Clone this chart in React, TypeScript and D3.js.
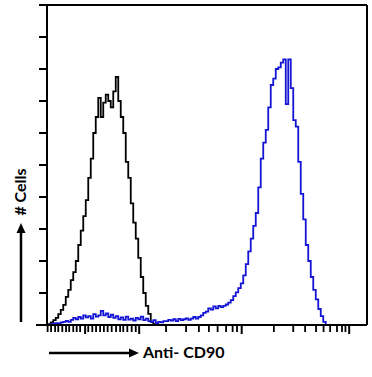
import React from 'react';
import * as d3 from 'd3';

// histogram bins: channel = index * 8 (0..1023 scale)
const binWidth = 8;

const isotypeCounts = [
  0, 0.3, 0.8, 1.5, 2.2, 3.4, 4.7, 6.3, 8.8, 11, 14, 16.5, 20, 25, 29.5, 34, 39, 46, 52, 60,
  65, 71, 65, 69.5, 72, 70, 68, 73, 77.5, 70, 65, 60, 51, 46, 38, 32, 27, 21, 15, 10,
  6, 3.5, 1, 0.3, 0,
];

const cd90Counts = [
  0, 0, 0.3, 0.5, 0.6, 0.5, 0.8, 1.0, 1.3, 1.0, 1.6, 2.2, 1.8, 2.5, 2.0, 3.0, 2.4, 2.8, 2.0, 3.4,
  2.6, 3.0, 4.4, 3.0, 3.6, 2.5, 3.2, 2.2, 2.8, 1.8, 2.4, 1.6, 2.6, 1.7, 2.0, 1.4, 2.2, 1.8, 2.6, 1.5,
  2.0, 1.2, 1.0, 1.5, 0.6, 1.0, 0.8, 1.2, 1.2, 1.6, 1.4, 1.8, 1.2, 1.9, 1.5, 1.8, 2.1, 1.6, 2.0, 2.5,
  2.0, 2.5, 3.0, 3.8, 4.2, 5.2, 4.8, 5.8, 5.2, 6.0, 5.6, 6.0, 6.4, 7.0, 7.8, 9.0, 10.2, 11.5, 13, 15.5,
  19, 23, 27, 31, 35, 43, 52, 57, 61, 68, 75, 77, 80, 80.5, 82, 83, 69, 83, 74, 64,
  62, 51, 41, 33, 25, 20, 15, 11, 8, 5, 2.8, 1, 0,
];

// x axis tick positions (channels), biexponential display
const minorTicks = [
  2, 13, 26, 36, 49, 61, 71, 84, 95, 106, 132, 145, 157, 170, 182, 194, 207, 221, 234, 244,
  257, 271, 284, 381, 445, 486, 518, 546, 573, 594, 608, 726, 788, 826, 861, 885, 906, 928, 944, 955,
];
const majorTicks = [122, 295, 623, 967];
const yTicks = [0, 10, 20, 30, 40, 50, 60, 70, 80, 90, 100];

const W = 372;
const H = 377;
const left = 47, right = 367, top = 5, bottom = 325;

export default function App() {
  const x = d3.scaleLinear().domain([0, 1024]).range([left, right]);
  const y = d3.scaleLinear().domain([0, 100]).range([bottom, top]);

  const line = d3.line<number>()
    .x((d, i) => x(i * binWidth))
    .y(d => y(d))
    .curve(d3.curveStep);

  const font = 'Lato, "Open Sans", sans-serif';

  return (
    <svg width={W} height={H} style={{ position: 'absolute', left: 0, top: 0, background: '#fff' }}>
      <path d={line(isotypeCounts) || ''} fill="none" stroke="#000" strokeWidth={1.8} />
      <path d={line(cd90Counts) || ''} fill="none" stroke="#1414d6" strokeWidth={1.8} />

      {/* frame */}
      <line x1={left} x2={right} y1={top} y2={top} stroke="#000" strokeWidth={2} />
      <line x1={right} x2={right} y1={top} y2={bottom} stroke="#000" strokeWidth={2} />
      <line x1={left} x2={left} y1={top} y2={bottom} stroke="#000" strokeWidth={2} />
      <line x1={36} x2={right} y1={bottom} y2={bottom} stroke="#000" strokeWidth={2} />

      {yTicks.map(t => (
        <line key={'y' + t} x1={39} x2={left} y1={y(t)} y2={y(t)} stroke="#000" strokeWidth={2} />
      ))}
      {minorTicks.map(t => (
        <line key={'m' + t} x1={x(t)} x2={x(t)} y1={bottom} y2={bottom + 7} stroke="#000" strokeWidth={1.8} />
      ))}
      {majorTicks.map(t => (
        <line key={'M' + t} x1={x(t)} x2={x(t)} y1={bottom} y2={bottom + 9} stroke="#000" strokeWidth={2} />
      ))}

      {/* y label + arrow */}
      <text transform="translate(26,192) rotate(-90)" textAnchor="middle"
        fontFamily={font} fontWeight="bold" fontSize={16}>
        # Cells
      </text>
      <line x1={21} x2={21} y1={322} y2={231} stroke="#000" strokeWidth={2.5} />
      <path d="M21,223 L16.5,233 L25.5,233 Z" fill="#000" />

      {/* x label + arrow */}
      <line x1={49} x2={131} y1={353} y2={353} stroke="#000" strokeWidth={2.5} />
      <path d="M139,353 L129,348.5 L129,357.5 Z" fill="#000" />
      <text x={143} y={358} fontFamily={font} fontWeight="bold" fontSize={16}>
        Anti- CD90
      </text>
    </svg>
  );
}
